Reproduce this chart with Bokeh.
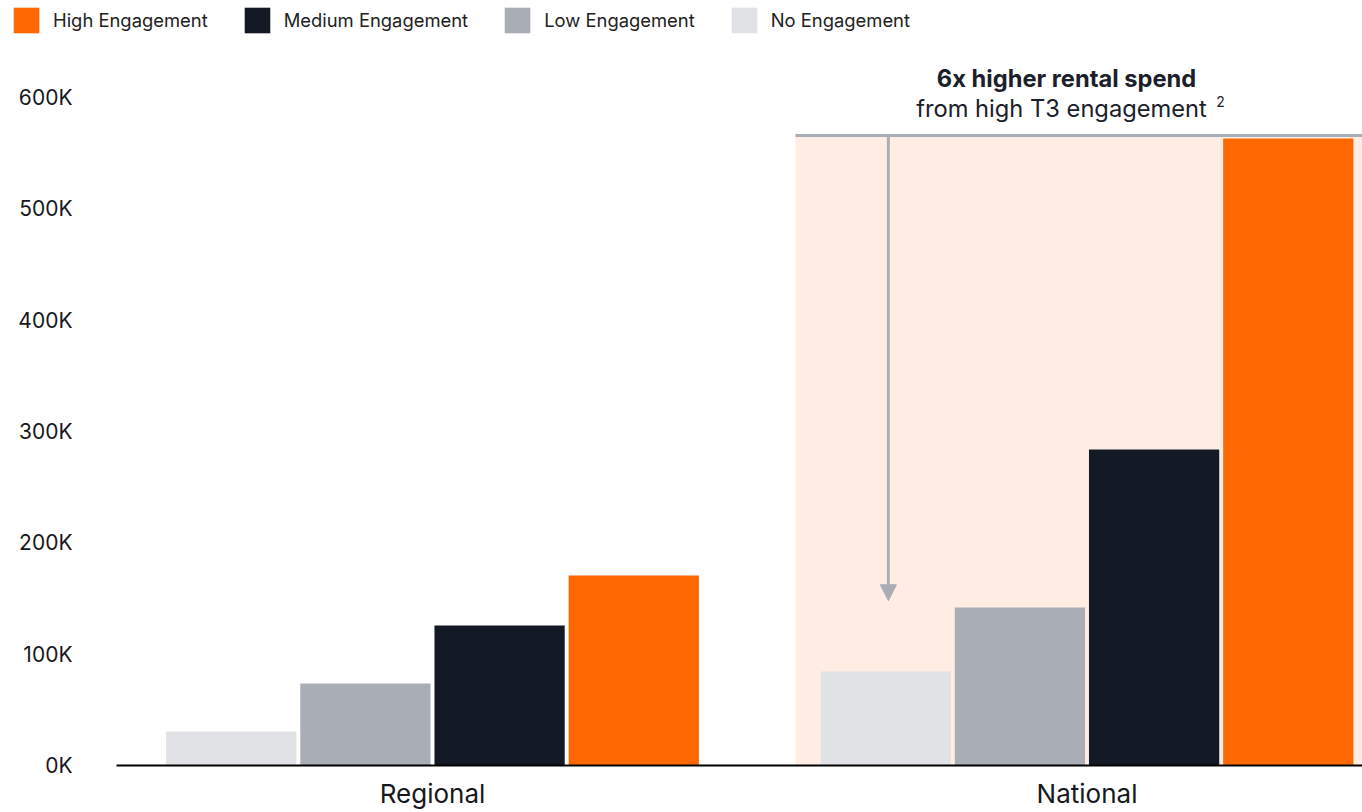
from bokeh.plotting import figure
from bokeh.models import (Range1d, FixedTicker, Legend, LegendItem, BoxAnnotation,
                          Label, Arrow, NormalHead)
from bokeh.embed import file_html
from bokeh.resources import INLINE
import numpy as np

# ---- data ----
groups = ["Regional", "National"]
series = ["No Engagement", "Low Engagement", "Medium Engagement", "High Engagement"]
no_engagement = [30500, 84500]
low_engagement = [73700, 142000]
medium_engagement = [125800, 284000]
high_engagement = [170700, 563300]
legend_order = ["High Engagement", "Medium Engagement", "Low Engagement", "No Engagement"]
y_ticks = [0, 100000, 200000, 300000, 400000, 500000, 600000]
y_tick_labels = ["0K", "100K", "200K", "300K", "400K", "500K", "600K"]
annot_title = "6x higher rental spend"
annot_sub = "from high T3 engagement"
annot_note = "2"

# ---- style ----
colors = {"No Engagement": "#e1e2e6", "Low Engagement": "#a9adb5",
          "Medium Engagement": "#131a25", "High Engagement": "#ff6700"}
FONT = "Inter"
TEXT = "#16181d"
step = 0.205
bar_w = 0.199
x_plot_start = -0.4828   # where the bar area (and baseline) begins
x_end = 1.4209
x_start = x_plot_start - 116 / 654.5
y_end = 687300
y_start = -42230

values = {"No Engagement": no_engagement, "Low Engagement": low_engagement,
          "Medium Engagement": medium_engagement, "High Engagement": high_engagement}

p = figure(width=1362, height=812, output_backend="svg", toolbar_location=None,
           x_range=Range1d(x_start, x_end), y_range=Range1d(y_start, y_end),
           min_border_left=0, min_border_right=0, min_border_top=0, min_border_bottom=0)
p.outline_line_color = None
p.xgrid.visible = False
p.ygrid.visible = False

# highlight region for National group
shade_top = 566000
shade_left = 0.5546
p.add_layout(BoxAnnotation(left=shade_left, bottom=0, top=shade_top, fill_color="#ffede4",
                           fill_alpha=1, line_alpha=0, level="underlay"))

renderers = {}
xg = np.arange(len(groups))
for i, s in enumerate(series):
    off = (i - 1.5) * step
    renderers[s] = p.vbar(x=xg + off, top=values[s], width=bar_w, bottom=0,
                          fill_color=colors[s], line_color=None)

# annotation line and arrow
p.segment(x0=[shade_left], y0=[shade_top], x1=[x_end + 0.1], y1=[shade_top],
          line_color="#a9adb5", line_width=3)
arrow_x = 1 - 1.5 * step + 0.004
p.add_layout(Arrow(end=NormalHead(size=16, fill_color="#a9adb5", line_color="#a9adb5"),
                   x_start=arrow_x, y_start=shade_top, x_end=arrow_x, y_end=148000,
                   line_color="#a9adb5", line_width=3))

p.add_layout(Label(x=0.9687, y=617300, text=annot_title, text_align="center",
                   text_baseline="middle", text_font=FONT, text_font_style="bold",
                   text_font_size="23.7px", text_color="#1b202a"))
p.add_layout(Label(x=0.961, y=590300, text=annot_sub, text_align="center",
                   text_baseline="middle", text_font=FONT,
                   text_font_size="23.7px", text_color="#1b202a"))
p.add_layout(Label(x=1.204, y=597000, text=annot_note, text_align="center",
                   text_baseline="middle", text_font=FONT,
                   text_font_size="14px", text_color="#1b202a"))

# axes (fixed inside the frame)
p.yaxis.fixed_location = x_plot_start
p.yaxis.ticker = FixedTicker(ticks=y_ticks)
p.yaxis.major_label_overrides = dict(zip(y_ticks, y_tick_labels))
p.yaxis.axis_line_color = None
p.yaxis.major_tick_line_color = None
p.yaxis.minor_tick_line_color = None
p.yaxis.major_tick_out = 0
p.yaxis.major_tick_in = 0
p.yaxis.minor_tick_out = 0
p.yaxis.major_label_standoff = 44
p.yaxis.major_label_text_font = FONT
p.yaxis.major_label_text_font_size = "21px"
p.yaxis.major_label_text_color = TEXT

p.xaxis.fixed_location = 0
p.xaxis.bounds = (x_plot_start, x_end)
p.xaxis.ticker = FixedTicker(ticks=list(range(len(groups))))
p.xaxis.major_label_overrides = {i: g for i, g in enumerate(groups)}
p.xaxis.axis_line_color = "black"
p.xaxis.axis_line_width = 2
p.xaxis.major_tick_line_color = None
p.xaxis.minor_tick_line_color = None
p.xaxis.major_tick_out = 0
p.xaxis.major_tick_in = 0
p.xaxis.minor_tick_out = 0
p.xaxis.major_label_standoff = 13
p.xaxis.major_label_text_font = FONT
p.xaxis.major_label_text_font_size = "26px"
p.xaxis.major_label_text_color = TEXT

legend = Legend(items=[LegendItem(label=s, renderers=[renderers[s]]) for s in legend_order],
                orientation="horizontal", location=(10, 812 - 4 - 32),
                glyph_width=32, glyph_height=32, label_standoff=11, spacing=33,
                padding=0, margin=0, border_line_alpha=0, background_fill_alpha=0,
                label_text_font=FONT, label_text_font_size="18.4px",
                label_text_color="#222222", label_text_baseline="middle")
p.add_layout(legend)

open("out.html", "w").write(file_html(p, INLINE))
